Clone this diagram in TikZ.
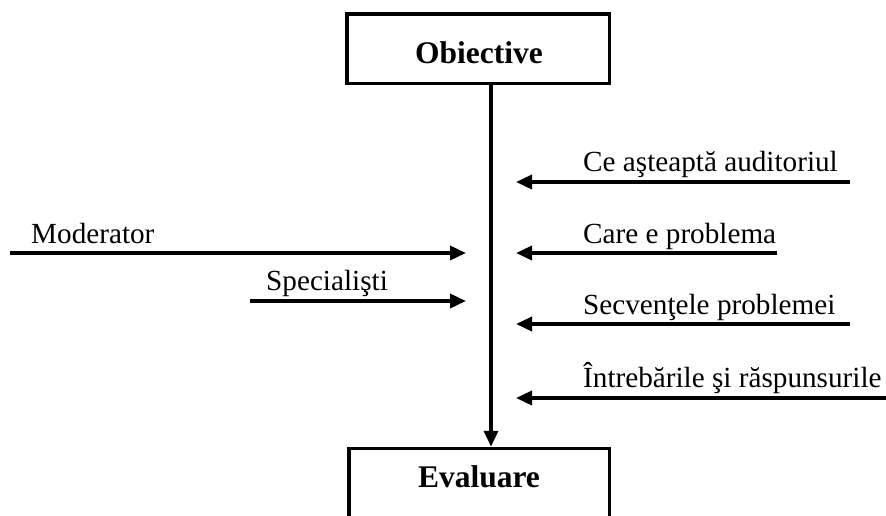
\documentclass[tikz,border=0pt]{standalone}
\usepackage{fontspec}
\setmainfont{Liberation Serif}
\usetikzlibrary{arrows.meta}
\begin{document}
\begin{tikzpicture}[x=1pt,y=-1pt,
  boxshape/.style={draw, line width=3.5pt, inner sep=0pt},
  lbl/.style={font=\fontsize{29.2}{35}\selectfont, inner sep=0pt, anchor=base west},
  ttl/.style={font=\bfseries\fontsize{31.5}{38}\selectfont, inner sep=0pt, anchor=base},
  arr/.style={line width=3.5pt, -{Triangle[length=16pt,width=14pt]}}]
\useasboundingbox (0,0) rectangle (886,515);
\clip (0,0) rectangle (886,515);
% boxes
\node[boxshape, minimum width=262.5pt, minimum height=69.5pt] (obbox) at (478,48.5) {};
\node[ttl] (obtxt) at (479,63) {Obiective};
\node[boxshape, minimum width=260.5pt, minimum height=150pt, anchor=north] (evalbox) at (479,446.75) {};
\node[ttl] (evtxt) at (479,487) {Evaluare};
% vertical axis
\coordinate (vl) at (491,0);
\draw[arr] (obbox.south -| vl) -- (evalbox.north -| vl);
% right side inputs
\coordinate (ceS) at (850,182);  \coordinate (ceE) at (516,182);
\coordinate (caS) at (777,253);  \coordinate (caE) at (516,253);
\coordinate (seS) at (850,324);  \coordinate (seE) at (516,324);
\coordinate (inS) at (887,398);  \coordinate (inE) at (516,398);
\draw[arr] (ceS) -- (ceE);
\draw[arr] (caS) -- (caE);
\draw[arr] (seS) -- (seE);
\draw[arr] (inS) -- (inE);
\node[lbl] (ce) at (583,171) {Ce aşteaptă auditoriul};
\node[lbl] (ca) at (583,243) {Care e problema};
\node[lbl] (se) at (583,314) {Secvenţele problemei};
\node[lbl] (in) at (583,387) {Întrebările şi răspunsurile};
% left side inputs
\coordinate (moS) at (10,253);  \coordinate (moE) at (466,253);
\coordinate (spS) at (250,301); \coordinate (spE) at (466,301);
\draw[arr] (moS) -- (moE);
\draw[arr] (spS) -- (spE);
\node[lbl] (mo) at (31,243) {Moderator};
\node[lbl] (sp) at (266,290) {Specialişti};
\end{tikzpicture}
\end{document}
